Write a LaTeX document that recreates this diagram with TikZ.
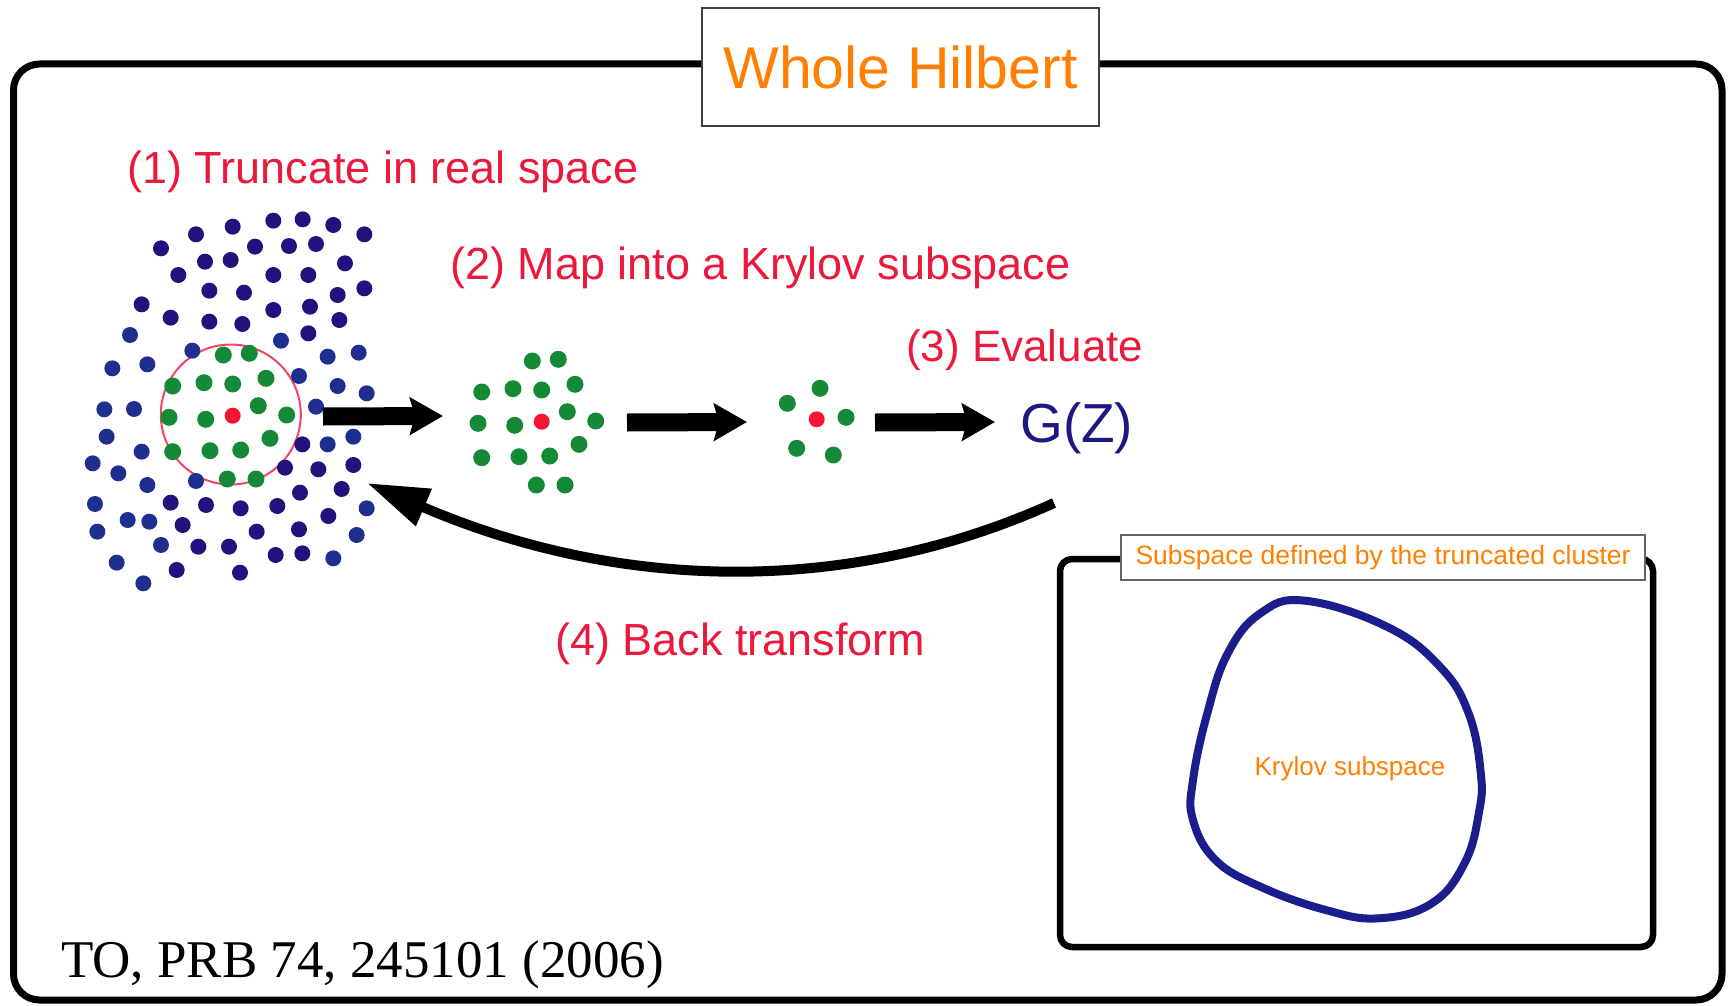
\documentclass[tikz,border=0pt]{standalone}
\usepackage{fontspec}
\setmainfont{Liberation Sans}
\newfontfamily\serifTO{Liberation Serif}
\usetikzlibrary{arrows.meta}
\definecolor{indigo}{RGB}{35,17,125}
\definecolor{dblue}{RGB}{31,47,143}
\definecolor{dgreen}{RGB}{20,138,54}
\definecolor{dotred}{RGB}{250,20,50}
\definecolor{lblred}{RGB}{235,25,60}
\definecolor{orng}{RGB}{255,128,0}
\definecolor{gzblue}{RGB}{30,25,130}
\definecolor{blobblue}{RGB}{25,30,140}
\definecolor{ringred}{RGB}{240,70,100}
\tikzset{
  lbl/.style={text=lblred, inner sep=0, font=\fontsize{45}{54}\selectfont},
  blockarrow/.style={line width=18, -{Stealth[length=33pt,width=37pt,inset=5pt]}},
  backarrow/.style={line width=10, -{Triangle[length=62pt,width=38pt]}},
}
\newcommand{\bigcluster}{%
  \foreach \dx/\dy in {-9.4/-60.7,16.6/-62.4,-60/-29.7,-28.7/-33,0/-31.7,33.3/-37.4,
    -63.7/1.6,-27/3.6,25.6/-10,54/-0.7,37.3/22.6,-60/36,-22.7/35,8/34.3,-5.4/63.3,23.3/63.3}
    {\fill[dgreen] (\dx,\dy) circle (8.5pt);}
  \fill[dotred] (0,0) circle (8pt);}
\begin{document}
\begin{tikzpicture}[x=1pt,y=-1pt]
\useasboundingbox (0,0) rectangle (1729,1006);
% outer box
\draw[line width=7, rounded corners=26] (13.5,64) rectangle (1722,1000);
\node[draw=black!75, line width=2, fill=white, minimum width=397, minimum height=118, inner sep=0,
  text=orng, font=\fontsize{59}{66}\selectfont] (whole) at (900.5,67) {Whole Hilbert};
% labels
\node[lbl, anchor=base west] (t1) at (127,183) {(1) Truncate in real space};
\node[lbl, anchor=base west] (t2) at (450,279) {(2) Map into a Krylov subspace};
\node[lbl, anchor=base west, font=\fontsize{44}{52}\selectfont] (t3) at (906,361) {(3) Evaluate};
\node[lbl, anchor=base west] (t4) at (555,655) {(4) Back transform};
% real-space lattice
\draw[ringred, line width=2] (230.8,414.5) circle (70pt);
\begin{scope}[xshift=70pt, yshift=-200pt, x=0.33333pt, y=-0.33333pt]
\foreach \zx/\zy in {698/58,610/62,790/75,488/80,883/103,378/103,273/145,555/140,657/138,738/132,
  405/185,482/180,825/190,325/225,610/225,715/225,418/272,522/278,803/285,883/265,215/313,302/353,
  418/365,517/372,610/330,720/320,808/360,715/400,
  697/733,645/803,745/808,850/795,690/878,815/867,302/908,408/915,512/925,622/918,338/975,560/995,
  687/988,775/948,385/1040,477/1040,617/1065,697/1060,320/1110,510/1118}
  {\fill[indigo] (\zx,\zy) circle (8pt);}
\foreach \zx/\zy in {633/422,180/405,367/452,127/505,232/493,773/470,866/458,687/528,803/558,890/580,
  103/628,192/627,738/620,110/710,215/755,773/733,850/710,68/790,145/820,232/855,378/843,75/912,
  173/960,238/965,82/995,273/1035,140/1088,220/1150,890/925,860/1005,790/1075}
  {\fill[dblue] (\zx,\zy) circle (8pt);}
\end{scope}
\begin{scope}[shift={(232.7,415.7)}]\bigcluster\end{scope}
\begin{scope}[shift={(541.7,421.7)}]\bigcluster\end{scope}
\begin{scope}[shift={(816.7,419.3)}]
  \foreach \dx/\dy in {3.3/-31,-29.4/-16,29.3/-2,-20/29,16.6/35.7}
    {\fill[dgreen] (\dx,\dy) circle (8.5pt);}
  \fill[dotred] (0,0) circle (8pt);
\end{scope}
% G(Z)
\node[anchor=base west, inner sep=0, text=gzblue, font=\fontsize{55}{60}\selectfont] (gz) at (1020,442) {G(Z)};
% block arrows
\coordinate (a1s) at (323,416.5); \coordinate (a1e) at (443,416);
\coordinate (a2s) at (627,422.5); \coordinate (a2e) at (747,422);
\coordinate (a3s) at (875,422.5); \coordinate (a3e) at (995,422);
\draw[blockarrow] (a1s) -- (a1e);
\draw[blockarrow] (a2s) -- (a2e);
\draw[blockarrow] (a3s) -- (a3e);
% back transform arrow
\coordinate (bs) at (1054,503); \coordinate (be) at (367,483);
\draw[backarrow] (bs) .. controls (847,597) and (618,591) .. (be);
% inner box
\draw[line width=6.5, rounded corners=12] (1060,559) rectangle (1653,947);
\node[draw=black!60, line width=1.5, fill=white, minimum width=524, minimum height=45, inner sep=0,
  text=orng, font=\fontsize{26.5}{30}\selectfont] (sub) at (1383,557.5) {Subspace defined by the truncated cluster};
\draw[blobblue, line width=8] plot[smooth cycle, tension=0.7] coordinates {
  (1305.3,600.7) (1386.9,626.7) (1440,666.7) (1468.6,713.3) (1480.8,773.3) (1478.8,813.3)
  (1464.5,863.3) (1431.8,903.3) (1378.8,918.3) (1325.7,910) (1260.4,886.7) (1215.5,860)
  (1193,820) (1193,780) (1207.3,713.3) (1227.8,653.3) (1260.4,613.3)};
\node[inner sep=0, text=orng, font=\fontsize{26}{30}\selectfont] (kry) at (1350,769) {Krylov subspace};
% citation
\node[anchor=base west, inner sep=0, font=\serifTO\fontsize{53}{60}\selectfont] (cite) at (61,977) {TO, PRB 74, 245101 (2006)};
\end{tikzpicture}
\end{document}
